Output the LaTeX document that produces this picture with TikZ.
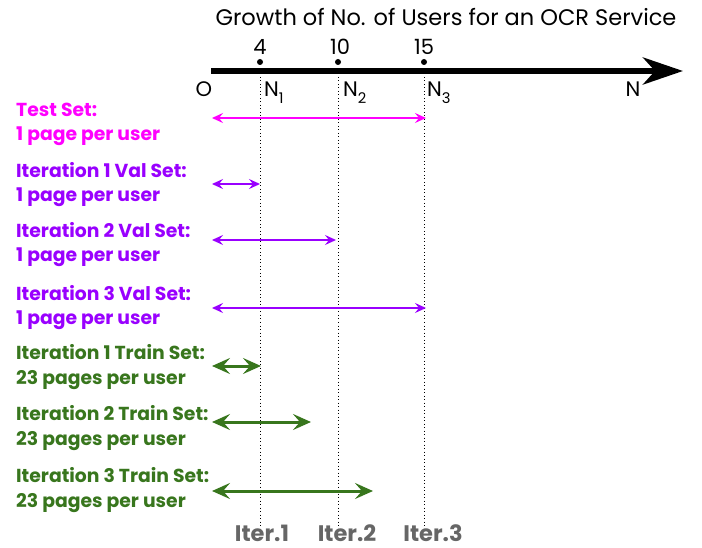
\documentclass[tikz,border=0pt]{standalone}
\usepackage{fontspec}
\setmainfont{Poppins}
\usepackage{xcolor}
\usepackage{tikz}
\usetikzlibrary{arrows.meta}
\definecolor{testc}{HTML}{FF00FF}
\definecolor{valc}{HTML}{9900FF}
\definecolor{trainc}{HTML}{38761D}
\definecolor{iterc}{HTML}{666666}
\tikzset{
  axisline/.style={draw=black, line width=6pt, -{Stealth[length=40pt,width=27pt,inset=12pt]}},
  guide/.style={draw=black, line width=1pt, dash pattern=on 1pt off 2.5pt},
  testarrow/.style={draw=testc, line width=1.8pt, {Stealth[length=11pt,width=10pt,inset=4pt]}-{Stealth[length=11pt,width=10pt,inset=4pt]}},
  valarrow/.style={testarrow, draw=valc},
  trainarrow/.style={draw=trainc, line width=3pt, {Stealth[length=18pt,width=16pt,inset=7pt]}-{Stealth[length=18pt,width=16pt,inset=7pt]}},
  pt/.style={circle, fill=black, inner sep=0pt, minimum size=6pt},
  setlab/.style={anchor=base west, align=left, inner sep=0pt, font=\bfseries\fontsize{18.8}{24.3}\selectfont},
  axlab/.style={inner sep=0pt, font=\fontsize{21}{24}\selectfont},
  iterlab/.style={text=iterc, inner sep=0pt, font=\bfseries\fontsize{22.5}{24}\selectfont},
}
\begin{document}
\begin{tikzpicture}[x=1pt, y=-1pt]
  \useasboundingbox (0,0) rectangle (702,548);
  \coordinate (O) at (211,71);
  \coordinate (Nend) at (683,71);
  \coordinate (N1) at (260,71);
  \coordinate (N2) at (338,71);
  \coordinate (N3) at (424,71);

  \foreach \n in {N1,N2,N3}
    \draw[guide] (\n) ++(0,6) -- ++(0,452);
  \draw[axisline] (O) -- (Nend);

  \node[pt] (d1) at (260,62) {};
  \node[pt] (d2) at (338,62) {};
  \node[pt] (d3) at (424,62) {};
  \node[axlab, anchor=base] at (260,55) {4};
  \node[axlab, anchor=base] at (340,55) {10};
  \node[axlab, anchor=base] at (424,55) {15};
  \node[axlab, font=\fontsize{22.5}{24}\selectfont, anchor=base] (title) at (446,26) {Growth of No. of Users for an OCR Service};
  \node[axlab, anchor=base] (olab) at (204,97) {O};
  \node[axlab, anchor=base west] (n1lab) at (264,97) {N\raisebox{-3pt}{\textsubscript{1}}};
  \node[axlab, anchor=base west] (n2lab) at (343,97) {N\raisebox{-3pt}{\textsubscript{2}}};
  \node[axlab, anchor=base west] (n3lab) at (427,97) {N\raisebox{-3pt}{\textsubscript{3}}};
  \node[axlab, anchor=base] (nlab) at (633,97) {N};

  \node[setlab, text=testc] (test) at (16,141) {Test Set:\\1 page per user};
  \node[setlab, text=valc] (val1) at (16,201.5) {Iteration 1 Val Set:\\1 page per user};
  \node[setlab, text=valc] (val2) at (16,261.5) {Iteration 2 Val Set:\\1 page per user};
  \node[setlab, text=valc] (val3) at (16,325) {Iteration 3 Val Set:\\1 page per user};
  \node[setlab, text=trainc] (train1) at (16,384) {Iteration 1 Train Set:\\23 pages per user};
  \node[setlab, text=trainc] (train2) at (16,445) {Iteration 2 Train Set:\\23 pages per user};
  \node[setlab, text=trainc] (train3) at (16,507) {Iteration 3 Train Set:\\23 pages per user};

  \coordinate (ta) at (212,118);  \coordinate (tb) at (426,118);
  \coordinate (v1a) at (212,184); \coordinate (v1b) at (260,184);
  \coordinate (v2a) at (212,240); \coordinate (v2b) at (336,240);
  \coordinate (v3a) at (212,308); \coordinate (v3b) at (426,308);
  \coordinate (r1a) at (212,366); \coordinate (r1b) at (261,366);
  \coordinate (r2a) at (212,422); \coordinate (r2b) at (311,422);
  \coordinate (r3a) at (212,491); \coordinate (r3b) at (373,491);
  \draw[testarrow] (ta) -- (tb);
  \draw[valarrow] (v1a) -- (v1b);
  \draw[valarrow] (v2a) -- (v2b);
  \draw[valarrow] (v3a) -- (v3b);
  \draw[trainarrow] (r1a) -- (r1b);
  \draw[trainarrow] (r2a) -- (r2b);
  \draw[trainarrow] (r3a) -- (r3b);

  \node[iterlab, anchor=base] (it1) at (262,541) {Iter.1};
  \node[iterlab, anchor=base] (it2) at (347,541) {Iter.2};
  \node[iterlab, anchor=base] (it3) at (433,541) {Iter.3};
\end{tikzpicture}
\end{document}
